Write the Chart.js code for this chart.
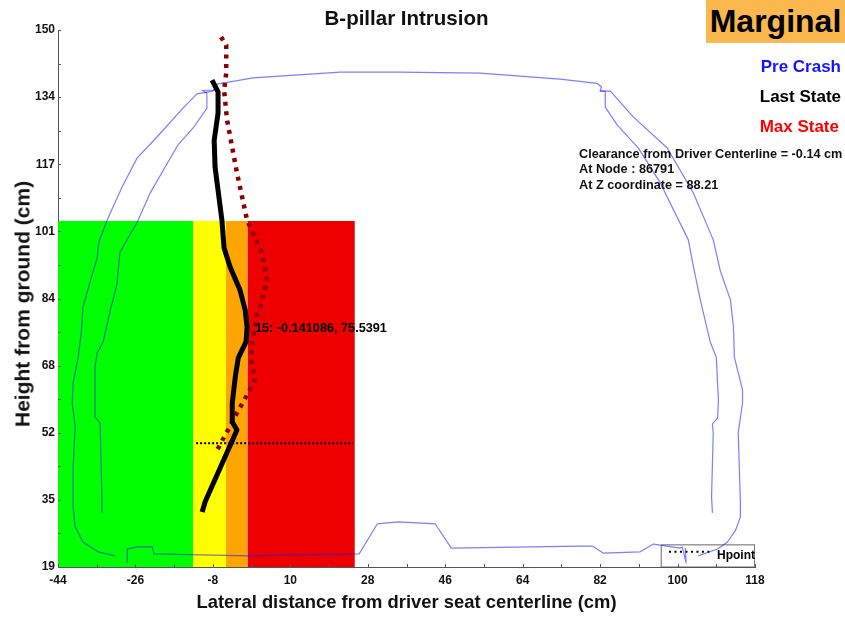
<!DOCTYPE html>
<html><head><meta charset="utf-8">
<script src="https://cdn.jsdelivr.net/npm/chart.js@4"></script>
<style>
html,body{margin:0;padding:0;background:#fff;width:845px;height:617px;overflow:hidden;font-family:"Liberation Sans",Arial,sans-serif}
#wrap{position:relative;width:845px;height:617px}
canvas{position:absolute;left:0;top:0}
.t{position:absolute;font-weight:bold;white-space:nowrap;line-height:1}
</style></head><body>
<div id="wrap"><canvas id="c" width="845" height="617"></canvas>
<div class="t" style="left:706px;top:0;width:139px;height:43px;background:#fbb84f;color:#000;font-size:32px;line-height:43px;text-align:center">Marginal</div>
<div class="t" style="right:4px;top:58px;color:#1414ff;font-size:17px">Pre Crash</div>
<div class="t" style="right:4px;top:88px;color:#000;font-size:17px">Last State</div>
<div class="t" style="right:6px;top:118px;color:#f00;font-size:17px">Max State</div>
<div class="t" style="left:579px;top:148px;color:#111;font-size:12.7px">Clearance from Driver Centerline = -0.14 cm</div>
<div class="t" style="left:579px;top:163px;color:#111;font-size:12.7px">At Node : 86791</div>
<div class="t" style="left:579px;top:179px;color:#111;font-size:12.7px">At Z coordinate = 88.21</div>
<div class="t" style="left:255px;top:322px;color:#000;font-size:12.7px">15: -0.141086, 75.5391</div>
<div class="t" style="left:717px;top:549px;color:#000;font-size:12px">Hpoint</div>
<div class="t" style="left:22px;top:304px;color:#111;font-size:21px;transform:translate(-50%,-50%) rotate(-90deg)">Height from ground (cm)</div>
</div>
<script>
const xTickValues=[-44,-35,-26,-17,-8,1,10,19,28,37,46,55,64,73,82,91,100,109,118];
const xTickLabels=["-44","","-26","","-8","","10","","28","","46","","64","","82","","100","","118"];
const yTickValues=[19,27.19,35.38,43.56,51.75,59.94,68.13,76.31,84.5,92.69,100.88,109.06,117.25,125.44,133.63,141.81,150];
const yTickLabels=["19","","35","","52","","68","","84","","101","","117","","134","","150"];

const zoneTop=103.4, zoneBottom=19;
const greenX=[-44,-12.6], yellowX=[-12.6,-4.95], orangeX=[-4.95,0], redX=[0,25];

const outerX=[-30.7,-34.7,-38.2,-40,-40.5,-40.5,-40,-40.7,-40.5,-39.3,-38.6,-38.2,-36.1,-34.9,-34.5,-32.4,-29.1,-25.6,-21,-14.9,-11.7,-8,-7,1.3,21.6,35.5,54.1,72.7,81.3,82.3,82,84.4,89.7,97.6,103.7,108.3,109.9,112.3,113,113.2,115.1,115.1,114.1,114.6,114.6,113.5,111.6,109.3,104.8];
const outerY=[21.7,22.7,25.1,28.8,33.6,43.4,53.1,59,63.9,70.2,76.1,82.4,90.2,94.4,98.3,104.1,111.7,118.8,123.9,131,134.4,135.1,136.8,138.3,139.7,139.7,139.5,138,137,136.1,135.1,135.1,128.8,121.2,110.2,98.8,91.4,84.1,77.5,70.2,62.2,59,51.7,35.3,31.2,28,25.1,23.4,21.7];
const innerRightX=[82,83.2,83.2,86,90.9,96,102.5,103.7,105.3,107.6,109,109.5,109.3,108.1,108.3,107.9,108.1];
const innerRightY=[135.1,135.1,131.2,126.8,121.2,112.7,98.8,92.2,84.1,73.9,70.2,59.7,55.3,53.9,51.7,36.1,32.2];
const innerLeftX=[-33.8,-33.8,-34.2,-35.4,-35.4,-34.9,-33.5,-31.7,-31.2,-30.3,-29.6,-25.6,-22.6,-16.1,-12.6,-9.4,-9.4,-10.5,-7.5];
const innerLeftY=[32.2,35.8,54.1,55.6,67.8,71.2,73.9,82.4,84.1,88,95.8,103.1,110.2,122,126.1,130.9,134.6,135.3,135.3];
const floorX=[-27.9,-27.9,-25.4,-22.1,-21.7,0.3,26,30.2,35.1,43.7,47.4,77.4,80.2,82.7,91.3,94.4,100.6,101.1,102,101.8];
const floorY=[20,23.4,23.9,23.9,22.2,21.7,22.2,29.5,30,29.5,23.6,24.1,24.1,22.4,22.7,24.6,23.6,23.9,20,23.6];

const lastX=[-8.2,-6.8,-6.8,-7.7,-7.5,-5.9,-5.4,-4,-1.7,-0.5,-0.05,-0.3,-2.1,-2.8,-3.5,-3.5,-2.4,-9.8,-10.5];
const lastY=[137.8,134.9,129.7,123.1,116.6,103.6,96.8,92.2,86.6,81.7,77.5,73.9,70,65.3,59,54.4,52.4,34.9,32.4];
const maxX=[-6.1,-4.9,-4.9,-5.4,-4.7,-2.4,-0.05,3.4,4.6,3,2.3,1.1,0.9,1.8,-0.05,-2.4,-4.5,-7.5];
const maxY=[148.3,146.3,139.5,135.3,128,115.1,103.6,95.6,89,82.4,80.9,73.6,69.5,64.6,61,56.6,52.4,46.6];

const hpointX=[-11.9,24.6], hpointY=[49.2,49.2];
const legendBoxX=[96.2,118,118,96.2,96.2], legendBoxY=[24.4,24.4,19,19,24.4];
const legendSampleX=[98,107.4], legendSampleY=[22.7,22.7];

const pts=(xs,ys)=>xs.map((x,i)=>({x,y:ys[i]}));
const zone=(xs,color)=>({data:xs.map(x=>({x,y:zoneTop})),borderWidth:0,pointRadius:0,backgroundColor:color,fill:{value:zoneBottom}});
const line=(xs,ys,color,width,dash,cap)=>({data:pts(xs,ys),borderColor:color,borderWidth:width,borderDash:dash||[],borderCapStyle:cap||'butt',borderJoinStyle:'round',pointRadius:0,fill:false,tension:0});
const blue='rgba(20,20,255,0.55)';

const inwardTicks={id:'inwardTicks',afterDatasetsDraw(ch){
  const g=ch.ctx,a=ch.chartArea;
  g.save();g.strokeStyle='#555';g.lineWidth=1;g.beginPath();
  xTickValues.forEach(v=>{const p=Math.round(ch.scales.x.getPixelForValue(v))+.5;g.moveTo(p,a.bottom);g.lineTo(p,a.bottom-3);});
  yTickValues.forEach(v=>{const p=Math.round(ch.scales.y.getPixelForValue(v))+.5;g.moveTo(a.left,p);g.lineTo(a.left+3,p);});
  g.stroke();g.restore();
}};

new Chart(document.getElementById('c'),{
  type:'line',
  plugins:[inwardTicks],
  data:{datasets:[
    line(lastX,lastY,'#000',5),
    line(maxX,maxY,'#8b0000',4.5,[4,5.5]),
    line(floorX,floorY,blue,1.2),line(innerLeftX,innerLeftY,blue,1.2),line(innerRightX,innerRightY,blue,1.2),line(outerX,outerY,blue,1.2),
    line(legendSampleX,legendSampleY,'#000',2,[2,3.5]),
    line(legendBoxX,legendBoxY,'#666',1),
    line(hpointX,hpointY,'#000',2,[2,2]),
    zone(redX,'#ee0000'),zone(orangeX,'#ffa500'),zone(yellowX,'#ffff00'),zone(greenX,'#00ff00')
  ]},
  options:{
    responsive:false,animation:false,
    layout:{padding:{top:0,right:90,left:0,bottom:0}},
    plugins:{legend:{display:false},tooltip:{enabled:false},
      title:{display:true,text:'B-pillar Intrusion',fullSize:false,color:'#111',font:{family:'"Liberation Sans"',size:20.5,weight:'bold'},padding:{top:6.7,bottom:-1.3}}},
    scales:{
      x:{type:'linear',min:-44,max:118,
        afterBuildTicks(s){s.ticks=xTickValues.map(value=>({value}));},
        afterFit(s){s.height=50;},
        grid:{display:false,drawTicks:false},
        border:{display:true,color:'#555',width:1},
        ticks:{autoSkip:false,maxRotation:0,color:'#111',padding:6,font:{family:'"Liberation Sans"',size:12,weight:'bold'},callback:(v,i)=>xTickLabels[i]},
        title:{display:true,text:'Lateral distance from driver seat centerline (cm)',color:'#111',font:{family:'"Liberation Sans"',size:18.4,weight:'bold'},padding:{top:0,bottom:3}}},
      y:{type:'linear',min:19,max:150,
        afterBuildTicks(s){s.ticks=yTickValues.map(value=>({value}));},
        afterFit(s){s.width=58;},
        grid:{display:false,drawTicks:false},
        border:{display:true,color:'#555',width:1},
        ticks:{autoSkip:false,color:'#111',padding:3,font:{family:'"Liberation Sans"',size:12,weight:'bold'},callback:(v,i)=>yTickLabels[i]},
        title:{display:false}}
    }
  }
});
</script>
</body></html>
